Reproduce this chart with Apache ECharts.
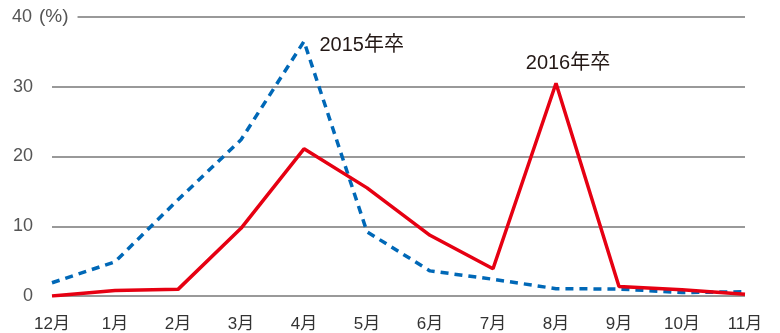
<!DOCTYPE html>
<html><head><meta charset="utf-8">
<script src="https://cdn.jsdelivr.net/npm/echarts@6/dist/echarts.min.js"></script>
<style>html,body{margin:0;padding:0;background:#fff}#c{width:780px;height:333px}</style>
</head><body><div id="c"></div>
<script>
var categories = ['12月','1月','2月','3月','4月','5月','6月','7月','8月','9月','10月','11月'];
var yTicks = [0, 10, 20, 30, 40];
var series2015Name = '2015年卒';
var series2015 = [1.9, 4.9, 13.8, 22.4, 36.5, 9.2, 3.6, 2.4, 1.05, 1.0, 0.5, 0.6];
var series2016Name = '2016年卒';
var series2016 = [0, 0.8, 0.95, 9.7, 21.1, 15.5, 8.7, 3.9, 30.5, 1.35, 0.9, 0.25];

var FONT = '"Liberation Sans", "Noto Sans CJK JP", sans-serif';

function peakIndex(arr){ var m=0; for(var i=1;i<arr.length;i++) if(arr[i]>arr[m]) m=i; return m; }

function buildData(arr, labelOpt){
  var p = peakIndex(arr);
  return arr.map(function(v,i){
    if(i===p) return {value:v, label: labelOpt};
    return {value:v, label:{show:false}};
  });
}

var chart = echarts.init(document.getElementById('c'), null, {renderer:'canvas'});
chart.setOption({
  animation:false,
  grid:{left:52, right:35, top:17, bottom:36, containLabel:false},
  xAxis:{
    type:'category', data:categories, boundaryGap:false,
    axisLine:{show:false}, axisTick:{show:false},
    axisLabel:{margin:20, color:'#333', fontSize:17, fontFamily:FONT}
  },
  yAxis:{
    type:'value', min:yTicks[0], max:yTicks[yTicks.length-1], interval:10,
    axisLine:{show:false}, axisTick:{show:false},
    splitLine:{lineStyle:{color:'#777', width:1.5}},
    axisLabel:{
      align:'left', margin:41, color:'#555', fontSize:18, fontFamily:FONT,
      formatter:function(v){
        if(v===yTicks[yTicks.length-1]) return '{n|'+v+'}{p|(%)}';
        return '{n|'+v+'}';
      },
      rich:{
        n:{width:22, align:'right', fontSize:18, color:'#555', fontFamily:FONT},
        p:{fontSize:19, color:'#555', fontFamily:FONT, backgroundColor:'#fff', padding:[2,9,2,6]}
      }
    }
  },
  series:[
    {
      name:series2015Name, type:'line', data:buildData(series2015, {
        show:true, position:'right', distance:15, formatter:series2015Name,
        color:'#231815', fontSize:20, fontFamily:FONT, offset:[0,4]
      }),
      showSymbol:true, symbol:'circle', symbolSize:1,
      itemStyle:{color:'rgba(0,0,0,0)'},
      lineStyle:{color:'#0068b7', width:3.5, type:[8,6]}, z:2
    },
    {
      name:series2016Name, type:'line', data:buildData(series2016, {
        show:true, position:'top', distance:12, formatter:series2016Name,
        color:'#231815', fontSize:20, fontFamily:FONT, offset:[12,3]
      }),
      showSymbol:true, symbol:'circle', symbolSize:1,
      itemStyle:{color:'rgba(0,0,0,0)'},
      lineStyle:{color:'#e60012', width:3.5}, z:3
    }
  ]
});
</script>
</body></html>
